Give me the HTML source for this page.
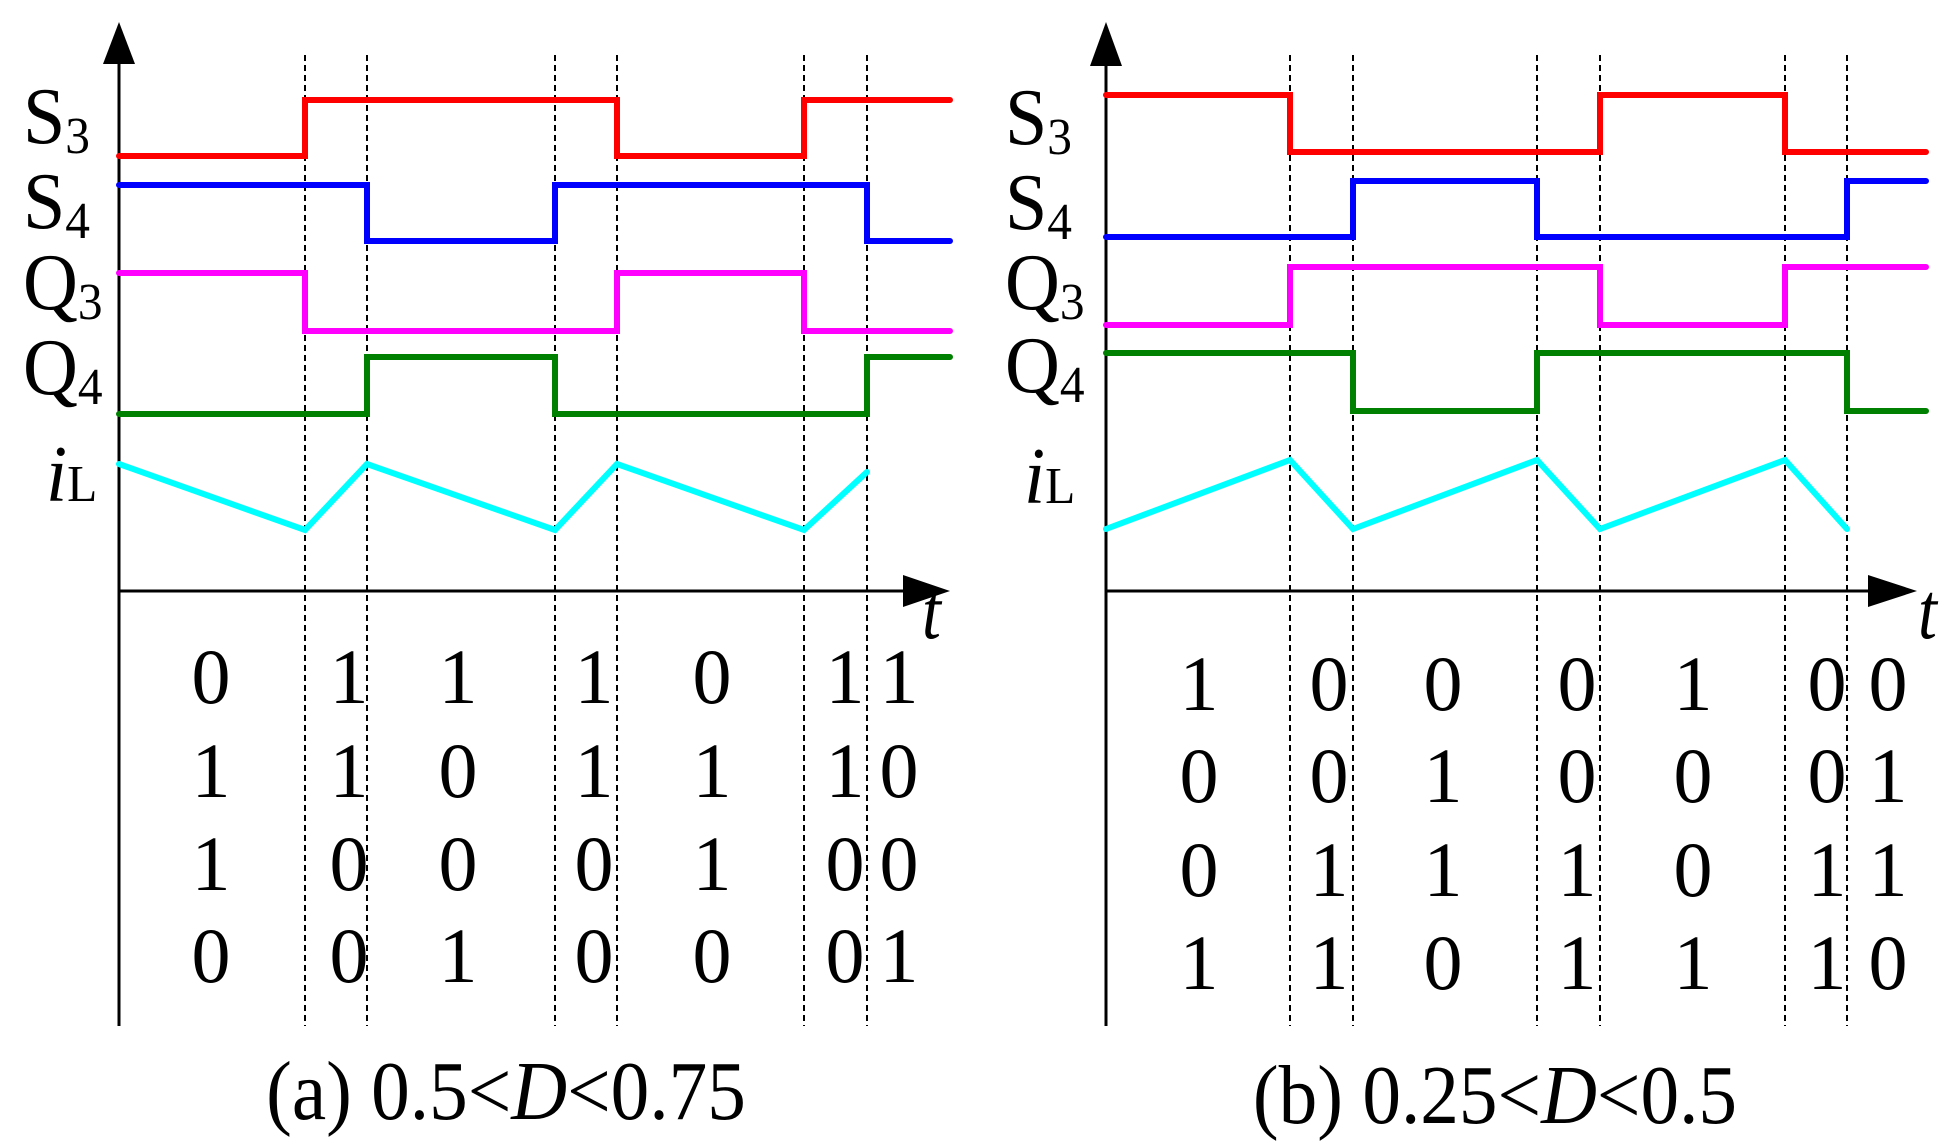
<!DOCTYPE html>
<html><head><meta charset="utf-8"><style>
html,body{margin:0;padding:0;background:#fff;}
svg{display:block;}
text{font-family:"Liberation Serif",serif;fill:#000;}
</style></head><body>
<svg width="1952" height="1146" viewBox="0 0 1952 1146" xmlns="http://www.w3.org/2000/svg">
<g stroke="#000" stroke-width="2" stroke-dasharray="6,4" fill="none">
<line x1="305" y1="55" x2="305" y2="1026"/><line x1="367" y1="55" x2="367" y2="1026"/>
<line x1="555" y1="55" x2="555" y2="1026"/><line x1="617" y1="55" x2="617" y2="1026"/>
<line x1="804" y1="55" x2="804" y2="1026"/><line x1="867" y1="55" x2="867" y2="1026"/>
<line x1="1290" y1="55" x2="1290" y2="1026"/><line x1="1353" y1="55" x2="1353" y2="1026"/>
<line x1="1537" y1="55" x2="1537" y2="1026"/><line x1="1600" y1="55" x2="1600" y2="1026"/>
<line x1="1785" y1="55" x2="1785" y2="1026"/><line x1="1847" y1="55" x2="1847" y2="1026"/>
</g>
<g stroke="#000" stroke-width="3" fill="none">
<line x1="119" y1="60" x2="119" y2="1026"/><line x1="119" y1="591" x2="905" y2="591"/>
<line x1="1106" y1="60" x2="1106" y2="1026"/><line x1="1106" y1="591" x2="1870" y2="591"/>
</g>
<g fill="#000">
<polygon points="119,22 103,64 135,64"/><polygon points="950,591 903,575 903,607"/>
<polygon points="1106,22 1090,66 1122,66"/><polygon points="1917,591 1868,575 1868,607"/>
</g>
<g fill="none" stroke-width="6" stroke-linejoin="miter" stroke-linecap="round">
<polyline stroke="#ff0000" points="119,156 305,156 305,100 617,100 617,156 804,156 804,100 950,100"/>
<polyline stroke="#0000ff" points="119,185 367,185 367,241 555,241 555,185 867,185 867,241 950,241"/>
<polyline stroke="#ff00ff" points="119,273 305,273 305,331 617,331 617,273 804,273 804,331 950,331"/>
<polyline stroke="#008000" points="119,414 367,414 367,357 555,357 555,414 867,414 867,357 950,357"/>
<polyline stroke="#00ffff" points="119,464 305,530 367,464 555,530 617,464 804,530 867,472"/>
<polyline stroke="#ff0000" points="1106,95 1290,95 1290,152 1600,152 1600,95 1785,95 1785,152 1926,152"/>
<polyline stroke="#0000ff" points="1106,237 1353,237 1353,181 1537,181 1537,237 1847,237 1847,181 1926,181"/>
<polyline stroke="#ff00ff" points="1106,325 1290,325 1290,267 1600,267 1600,325 1785,325 1785,267 1926,267"/>
<polyline stroke="#008000" points="1106,353 1353,353 1353,411 1537,411 1537,353 1847,353 1847,411 1926,411"/>
<polyline stroke="#00ffff" points="1106,529 1290,460 1353,529 1537,460 1600,529 1785,460 1847,529"/>
</g>
<g font-size="80">
<text transform="translate(23,143) scale(0.95,1)">S<tspan font-size="52" dy="10">3</tspan></text>
<text transform="translate(23,228) scale(0.95,1)">S<tspan font-size="52" dy="10">4</tspan></text>
<text transform="translate(23,309) scale(0.95,1)">Q<tspan font-size="52" dy="10">3</tspan></text>
<text transform="translate(23,394) scale(0.95,1)">Q<tspan font-size="52" dy="10">4</tspan></text>
<text transform="translate(46,501) scale(0.95,1)"><tspan font-style="italic">i</tspan><tspan font-size="52">L</tspan></text>
<text transform="translate(1005,144) scale(0.95,1)">S<tspan font-size="52" dy="10">3</tspan></text>
<text transform="translate(1005,229) scale(0.95,1)">S<tspan font-size="52" dy="10">4</tspan></text>
<text transform="translate(1005,309) scale(0.95,1)">Q<tspan font-size="52" dy="10">3</tspan></text>
<text transform="translate(1005,392) scale(0.95,1)">Q<tspan font-size="52" dy="10">4</tspan></text>
<text transform="translate(1024,503) scale(0.95,1)"><tspan font-style="italic">i</tspan><tspan font-size="52">L</tspan></text>
<text transform="translate(922,638) scale(0.85,1)" font-style="italic">t</text>
<text transform="translate(1918,638) scale(0.85,1)" font-style="italic">t</text>
</g>
<g font-size="78" text-anchor="middle">
<g transform="translate(0,703)"><text x="211">0</text><text x="349">1</text><text x="458">1</text><text x="594">1</text><text x="712">0</text><text x="845">1</text><text x="899">1</text></g>
<g transform="translate(0,797)"><text x="211">1</text><text x="349">1</text><text x="458">0</text><text x="594">1</text><text x="712">1</text><text x="845">1</text><text x="899">0</text></g>
<g transform="translate(0,890)"><text x="211">1</text><text x="349">0</text><text x="458">0</text><text x="594">0</text><text x="712">1</text><text x="845">0</text><text x="899">0</text></g>
<g transform="translate(0,982)"><text x="211">0</text><text x="349">0</text><text x="458">1</text><text x="594">0</text><text x="712">0</text><text x="845">0</text><text x="899">1</text></g>
<g transform="translate(0,710)"><text x="1199">1</text><text x="1329">0</text><text x="1443">0</text><text x="1577">0</text><text x="1693">1</text><text x="1827">0</text><text x="1888">0</text></g>
<g transform="translate(0,802)"><text x="1199">0</text><text x="1329">0</text><text x="1443">1</text><text x="1577">0</text><text x="1693">0</text><text x="1827">0</text><text x="1888">1</text></g>
<g transform="translate(0,896)"><text x="1199">0</text><text x="1329">1</text><text x="1443">1</text><text x="1577">1</text><text x="1693">0</text><text x="1827">1</text><text x="1888">1</text></g>
<g transform="translate(0,989)"><text x="1199">1</text><text x="1329">1</text><text x="1443">0</text><text x="1577">1</text><text x="1693">1</text><text x="1827">1</text><text x="1888">0</text></g>
</g>
<g font-size="84" text-anchor="middle">
<text transform="translate(506,1119) scale(0.92,1)">(a) 0.5&lt;<tspan font-style="italic">D</tspan>&lt;0.75</text>
<text transform="translate(1495,1123) scale(0.92,1)">(b) 0.25&lt;<tspan font-style="italic">D</tspan>&lt;0.5</text>
</g>
</svg>
</body></html>
